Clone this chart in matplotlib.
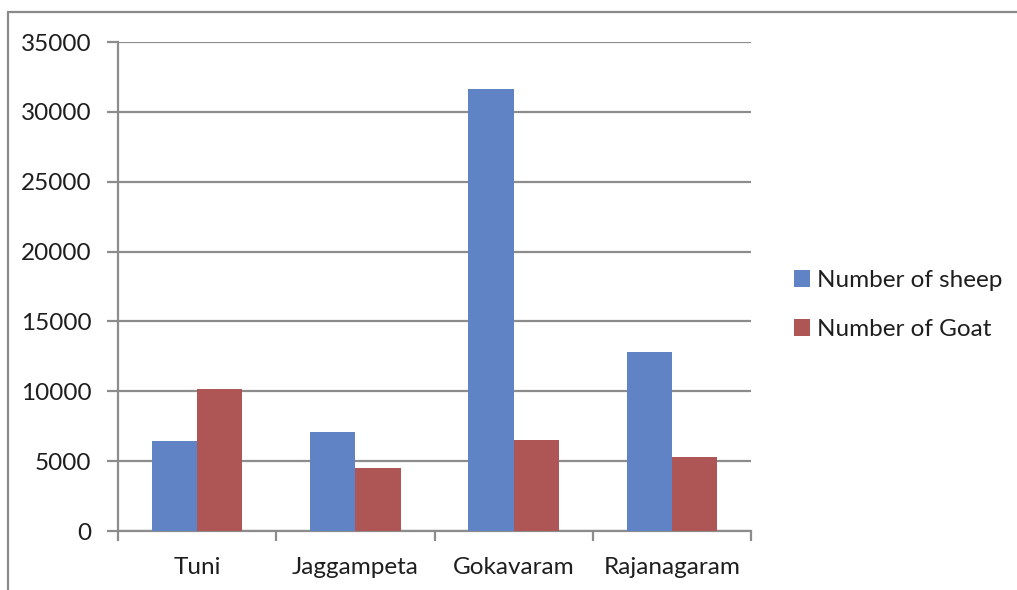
import matplotlib.pyplot as plt
from matplotlib.patches import Rectangle
import numpy as np

# data
places = ['Tuni', 'Jaggampeta', 'Gokavaram', 'Rajanagaram']
sheep = [6430, 7120, 31620, 12800]
goat = [10150, 4500, 6500, 5300]
y_ticks = [0, 5000, 10000, 15000, 20000, 25000, 30000, 35000]

blue = '#5F83C4'
red = '#AE5655'
grey = '#8C8C8C'
ink = '#1E1E1E'

plt.rcParams['font.family'] = ['Lato', 'DejaVu Sans']

fig = plt.figure(figsize=(10.17, 5.90), dpi=100)
ax = fig.add_axes([118 / 1017, 1 - 531 / 590, (751 - 118) / 1017, (531 - 42) / 590])

x = np.arange(len(places))
w = 1 / 3.5
ax.bar(x - w / 2, sheep, w, color=blue, label='Number of sheep', zorder=3)
ax.bar(x + w / 2, goat, w, color=red, label='Number of Goat', zorder=3)

ax.set_xlim(-0.5, len(places) - 0.5)
ax.set_ylim(0, 35000)
ax.set_yticks(y_ticks)
ax.set_yticklabels([str(v) for v in y_ticks], fontsize=17.5, color=ink)
ax.yaxis.grid(True, color=grey, linewidth=1.6, zorder=0)

# category boundaries get the tick marks, names sit between them
ax.set_xticks(np.arange(-0.5, len(places), 1.0))
ax.set_xticklabels([])
ax.set_xticks(x, minor=True)
ax.set_xticklabels(places, minor=True, fontsize=17.5, color=ink)
ax.tick_params(axis='x', which='major', length=7, color=grey, width=1.6)
ax.tick_params(axis='x', which='minor', length=0, pad=19)
ax.tick_params(axis='y', length=8, color=grey, width=1.6, pad=11)

for s in ['top', 'right']:
    ax.spines[s].set_visible(False)
for s in ['left', 'bottom']:
    ax.spines[s].set_color(grey)
    ax.spines[s].set_linewidth(1.6)

leg = fig.legend(loc='center left', bbox_to_anchor=(772 / 1017, 1 - 305 / 590),
                 frameon=False, fontsize=17.5, handlelength=0.65, handleheight=0.65,
                 handletextpad=0.3, labelspacing=1.15)
for t in leg.get_texts():
    t.set_color(ink)

# outer chart border, cut off at the right and bottom like the reference
fig.patches.append(Rectangle((8 / 1017, -0.1), 1.2, 1.1 - 12 / 590,
                             transform=fig.transFigure, fill=False,
                             edgecolor='#8A8A8A', linewidth=1.6))

fig.savefig('out.png', dpi=100)
